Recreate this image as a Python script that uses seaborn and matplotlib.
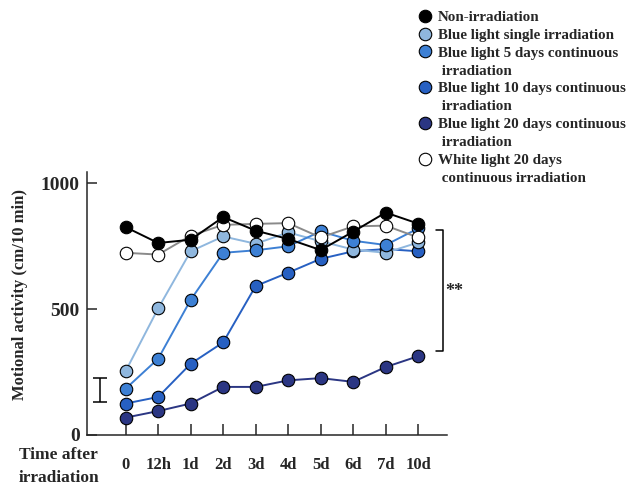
import numpy as np
import pandas as pd
import matplotlib
matplotlib.use("Agg")
import matplotlib.pyplot as plt
from matplotlib.lines import Line2D
import seaborn as sns

# ============================================================
# DATA
# ============================================================

time_labels = ["0", "12h", "1d", "2d", "3d", "4d", "5d", "6d", "7d", "10d"]

non_irr = [826, 763, 776, 866, 812, 779, 735, 808, 884, 840]
white_20d = [724, 717, 792, 835, 839, 842, 785, 829, 832, 785]
blue_single = [254, 503, 730, 789, 760, 805, 770, 737, 724, 765]
blue_5d = [184, 303, 537, 724, 734, 750, 809, 772, 755, 821]
blue_10d = [125, 151, 283, 368, 592, 645, 700, 730, 739, 730]
blue_20d = [69, 95, 125, 191, 191, 217, 226, 211, 270, 313]

# ============================================================
# STYLE
# ============================================================

sns.set_style("ticks")
plt.rcParams["font.family"] = ["Liberation Serif", "DejaVu Serif"]
plt.rcParams["font.weight"] = "bold"

fig = plt.figure(figsize=(6.34, 4.86), dpi=100)
ax = fig.add_axes([0.1367, 0.105, 0.568, 0.541])

x = np.arange(len(time_labels))

# name, values, marker face, line colour
series = [
    ("20d", blue_20d, "#2b3683", "#2b3683"),
    ("10d", blue_10d, "#2760c2", "#2760c2"),
    ("single", blue_single, "#8fb7de", "#8fb7de"),
    ("5d", blue_5d, "#3d80d4", "#3d80d4"),
    ("white", white_20d, "white", "#8a8a8a"),
    ("non", non_irr, "black", "black"),
]

for name, vals, face, line_col in series:
    df = pd.DataFrame({"x": x, "y": vals})
    sns.lineplot(
        data=df, x="x", y="y", ax=ax,
        color=line_col, linewidth=1.4,
        marker="o", markersize=9,
        markerfacecolor=face, markeredgecolor="black",
        markeredgewidth=0.8, zorder=3,
    )

# ============================================================
# AXES
# ============================================================

ax.set_xlim(-1.2, 9.88)
ax.set_ylim(0, 1045)
ax.set_xticks(x)
ax.set_xticklabels(time_labels, fontsize=12, fontweight="bold")
ax.set_yticks([0, 500, 1000])
ax.set_yticklabels(["0", "500", "1000"], fontsize=14, fontweight="bold")
ax.tick_params(axis="x", direction="in", length=8, width=1.1, pad=16)
ax.tick_params(axis="y", direction="in", length=7, width=1.1, pad=5)
ax.set_xlabel("")
ax.set_ylabel("")
sns.despine(ax=ax)
for sp in ["left", "bottom"]:
    ax.spines[sp].set_linewidth(1.1)

fig.text(0.032, 0.395, "Motional activity (cm/10 min)", rotation=90,
         ha="center", va="center", fontsize=12, fontweight="bold")
fig.text(0.03, 0.04, "Time after\nirradiation", ha="left", va="center",
         fontsize=12.5, fontweight="bold", linespacing=1.55)

# representative error bar
ax.errorbar(-0.79, 180, yerr=48, color="black", capsize=5,
            elinewidth=1.1, capthick=1.1)

# significance bracket
ax.plot([9.55, 9.76, 9.76, 9.55], [816, 816, 334, 334],
        color="black", linewidth=1.1, clip_on=False)
ax.text(10.12, 571, "**", ha="center", va="center", fontsize=13,
        fontweight="bold")

# ============================================================
# LEGEND
# ============================================================

def mk(face):
    return Line2D([], [], linestyle="none", marker="o", markersize=9,
                  markerfacecolor=face, markeredgecolor="black",
                  markeredgewidth=0.8)

blank = Line2D([], [], linestyle="none")

handles = [mk("black"), mk("#8fb7de"), mk("#3d80d4"), blank,
           mk("#2760c2"), blank, mk("#2b3683"), blank, mk("white"), blank]
labels = [
    "Non-irradiation",
    "Blue light single irradiation",
    "Blue light 5 days continuous",
    " irradiation",
    "Blue light 10 days continuous",
    " irradiation",
    "Blue light 20 days continuous",
    " irradiation",
    "White light 20 days",
    " continuous irradiation",
]

fig.legend(handles, labels, loc="upper left", bbox_to_anchor=(0.647, 0.997),
           frameon=False, handlelength=0.8, handletextpad=0.45,
           labelspacing=0.29, borderpad=0.1,
           prop={"family": "Liberation Serif", "weight": "bold", "size": 10.8})

fig.savefig("out.png", dpi=100)
